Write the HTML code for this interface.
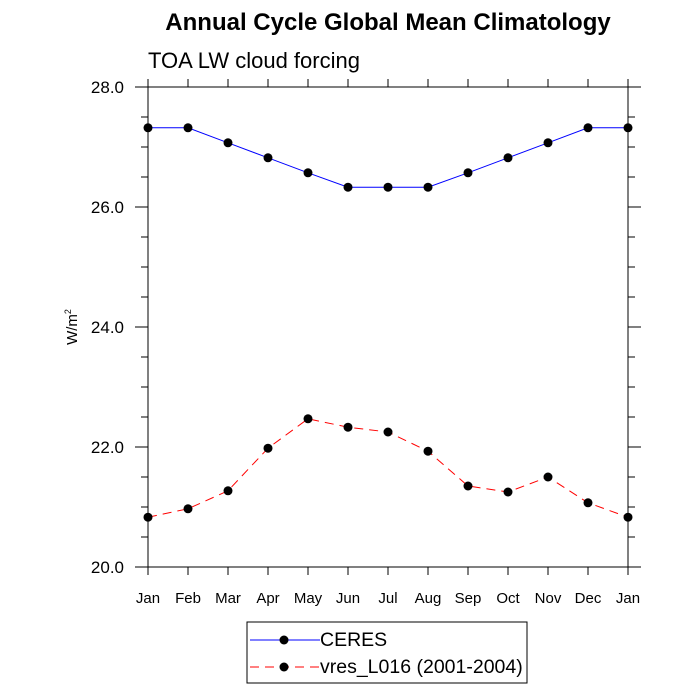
<!DOCTYPE html>
<html><head><meta charset="utf-8"><style>
body{margin:0;background:#fff}
svg{display:block;font-family:"Liberation Sans",Helvetica,sans-serif}
</style></head><body>
<svg width="700" height="700" viewBox="0 0 700 700">
<text x="388" y="30" text-anchor="middle" font-size="24" font-weight="bold">Annual Cycle Global Mean Climatology</text>
<text x="148" y="68" font-size="22">TOA LW cloud forcing</text>
<text transform="translate(77,327) rotate(-90)" text-anchor="middle" font-size="15">W/m<tspan dy="-6" font-size="9">2</tspan></text>
<g id="axes"></g>
<g id="series"></g>
<g>
<rect x="247" y="622" width="280" height="61" fill="none" stroke="#000" stroke-width="1"/>
<g>
<line x1="250" y1="640" x2="320" y2="640" stroke="#00f" stroke-width="1"/>
<circle cx="284" cy="640" r="4.5" fill="#000"/>
<text x="320" y="646" font-size="19.5">CERES</text>
</g>
<g>
<line x1="250" y1="667" x2="320" y2="667" stroke="#f00" stroke-width="1" stroke-dasharray="9,6"/>
<circle cx="284" cy="667" r="4.5" fill="#000"/>
<text x="320" y="673" font-size="19.5">vres_L016 (2001-2004)</text>
</g>
</g>
</svg>
<script>
const months=["Jan","Feb","Mar","Apr","May","Jun","Jul","Aug","Sep","Oct","Nov","Dec","Jan"];
const ceres=[27.32,27.32,27.07,26.82,26.57,26.33,26.33,26.33,26.57,26.82,27.07,27.32,27.32];
const model=[20.83,20.97,21.27,21.98,22.47,22.33,22.25,21.93,21.35,21.25,21.5,21.07,20.83];
const yTicks=[20,22,24,26,28];
const NS="http://www.w3.org/2000/svg";
const X0=148,X1=628,Y0=567,Y1=87,YMIN=20,YMAX=28;
const xs=i=>X0+(X1-X0)*i/(months.length-1);
const ys=v=>Y0-(v-YMIN)/(YMAX-YMIN)*(Y0-Y1);
function mk(t,a,p){const e=document.createElementNS(NS,t);for(const k in a)e.setAttribute(k,a[k]);p.appendChild(e);return e;}
const ax=document.getElementById('axes');
const fr=mk('rect',{x:X0,y:Y1,width:X1-X0,height:Y0-Y1,fill:'none',stroke:'#000','stroke-width':1},ax);


for(let v=YMIN;v<=YMAX+1e-9;v+=0.5){
  const y=ys(v),maj=Math.abs(v-Math.round(v/2)*2)<1e-9,len=maj?13:7;
  mk('line',{x1:X0-len,y1:y,x2:X0,y2:y,stroke:'#000'},ax);
  mk('line',{x1:X1,y1:y,x2:X1+len,y2:y,stroke:'#000'},ax);
}
yTicks.forEach(v=>{
  const t=mk('text',{x:X0-24,y:ys(v)+6,'text-anchor':'end','font-size':17},ax);
  t.textContent=v.toFixed(1);
  
  
});
months.forEach((m,i)=>{
  const x=xs(i);
  mk('line',{x1:x,y1:Y0,x2:x,y2:Y0+8,stroke:'#000'},ax);
  mk('line',{x1:x,y1:Y1-8,x2:x,y2:Y1,stroke:'#000'},ax);
  const t=mk('text',{x:x,y:Y0+36,'text-anchor':'middle','font-size':15},ax);
  t.textContent=m;
  
  
});
const sg=document.getElementById('series');
function draw(vals,color,dash,name){
  const g=mk('g',{},sg);
  
  
  const a={points:vals.map((v,i)=>xs(i)+','+ys(v)).join(' '),fill:'none',stroke:color,'stroke-width':1};
  if(dash)a['stroke-dasharray']=dash;
  mk('polyline',a,g);
  vals.forEach((v,i)=>{
    const c=mk('circle',{cx:xs(i),cy:ys(v),r:4.5,fill:'#000'},g);
    
    
  });
}
draw(ceres,'#00f',null,'series-ceres');
draw(model,'#f00','9,6','series-vres-l016');
</script>
</body></html>
